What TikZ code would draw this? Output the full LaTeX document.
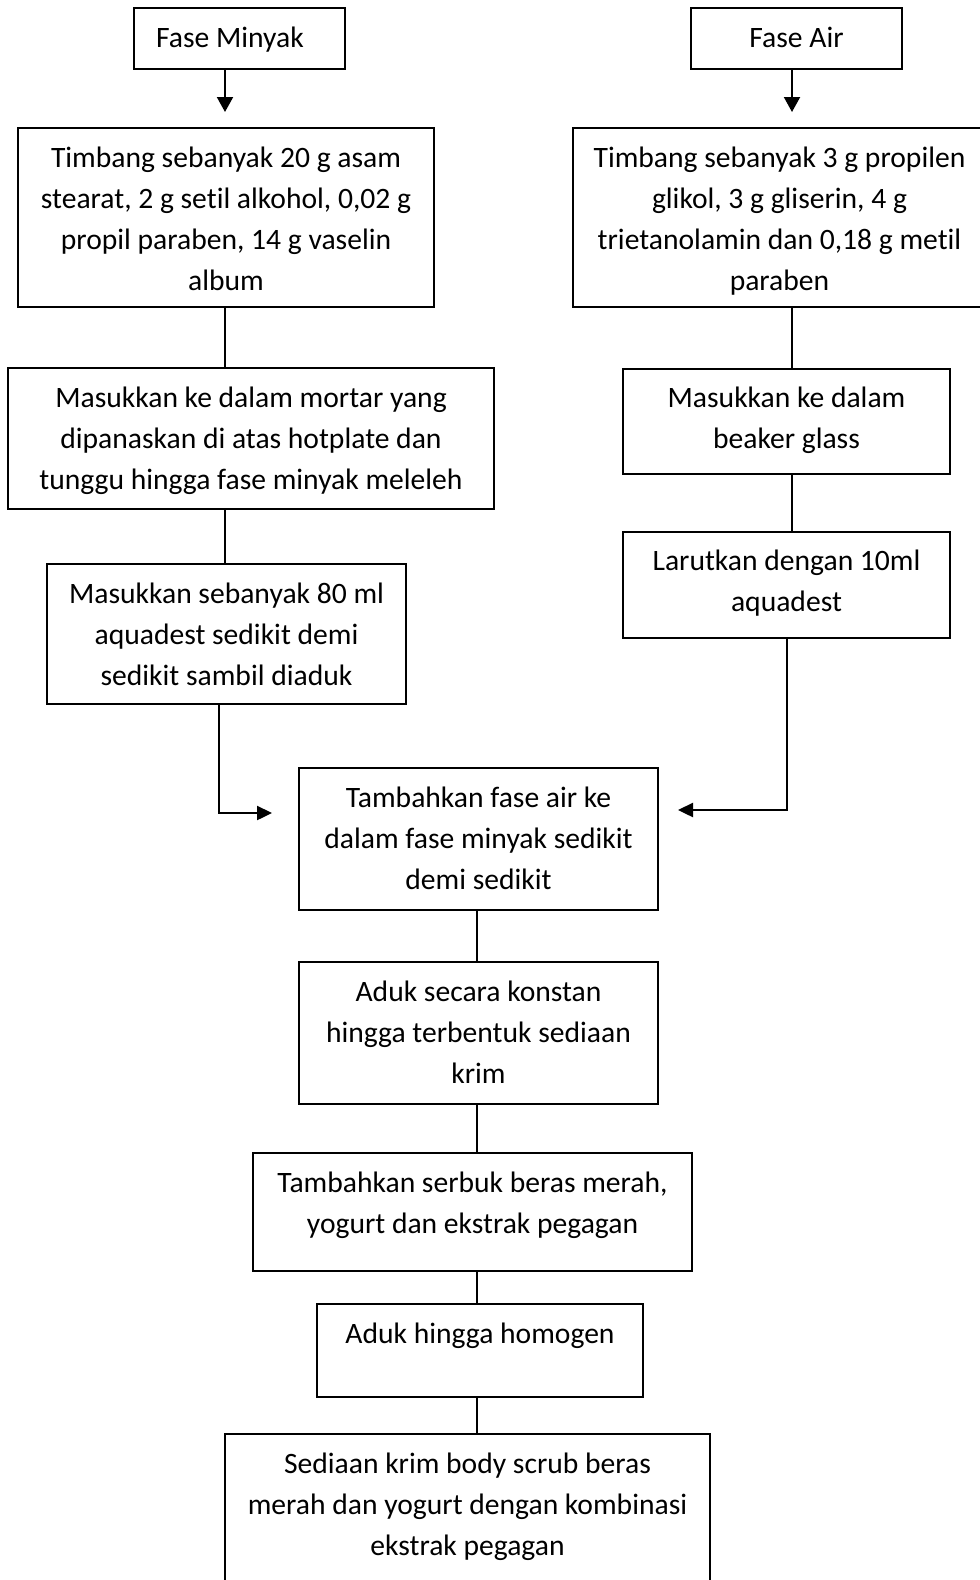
\documentclass[tikz,border=0pt]{standalone}
\usepackage{fontspec}
\setmainfont{Carlito}[Ligatures={NoCommon}]
\usetikzlibrary{arrows.meta,calc}
\newcommand\myfirst{\rule{0pt}{30pt}}
\tikzset{
  boxst/.style={draw=black, line width=1.8pt, rectangle, inner sep=0pt, fill=white},
  txt/.style={align=center, inner sep=0pt, anchor=north, font=\fontsize{29.6}{41}\selectfont},
  plain/.style={draw=black, line width=1.6pt},
  arrowline/.style={draw=black, line width=2.4pt, -{Triangle[length=15pt,width=14pt]}},
  toparrow/.style={draw=black, line width=2pt, -{Triangle[length=15pt,width=16pt]}}
}
\begin{document}
\begin{tikzpicture}[x=1pt,y=-1pt]
\clip (0,0) rectangle (980,1580);
\fill[white] (0,0) rectangle (980,1580);

% boxes
\node[boxst, minimum width=211pt, minimum height=61pt] (fm) at (239.5,38.5) {};
\node[boxst, minimum width=211pt, minimum height=61pt] (fa) at (796.5,38.5) {};
\node[boxst, minimum width=416pt, minimum height=179pt] (tl) at (226,217.5) {};
\node[boxst, minimum width=417pt, minimum height=179pt] (tr) at (781.5,217.5) {};
\node[boxst, minimum width=486pt, minimum height=141pt] (ml) at (251,438.5) {};
\node[boxst, minimum width=359pt, minimum height=140pt] (ak) at (226.5,634) {};
\node[boxst, minimum width=327pt, minimum height=105pt] (bg) at (786.5,421.5) {};
\node[boxst, minimum width=327pt, minimum height=106pt] (lr) at (786.5,585) {};
\node[boxst, minimum width=359pt, minimum height=142pt] (tf) at (478.5,839) {};
\node[boxst, minimum width=359pt, minimum height=142pt] (ak2) at (478.5,1033) {};
\node[boxst, minimum width=439pt, minimum height=118pt] (sb) at (472.5,1212) {};
\node[boxst, minimum width=326pt, minimum height=93pt] (hh) at (480,1350.5) {};
\node[boxst, minimum width=485pt, minimum height=166pt] (sd) at (467.5,1517) {};

% texts
\node[txt] (fm-t) at (230,17) {\myfirst Fase Minyak};
\node[txt] (fa-t) at (796.5,17) {\myfirst Fase Air};
\node[txt] (tl-t) at (226,137) {\myfirst Timbang sebanyak 20 g asam\\stearat, 2 g setil alkohol, 0,02 g\\propil paraben, 14 g vaselin\\album};
\node[txt] (tr-t) at (779.5,137) {\myfirst Timbang sebanyak 3 g propilen\\glikol, 3 g gliserin, 4 g\\trietanolamin dan 0,18 g metil\\paraben};
\node[txt] (ml-t) at (251,377) {\myfirst Masukkan ke dalam mortar yang\\dipanaskan di atas hotplate dan\\tunggu hingga fase minyak meleleh};
\node[txt] (ak-t) at (226.5,573) {\myfirst Masukkan sebanyak 80 ml\\aquadest sedikit demi\\sedikit sambil diaduk};
\node[txt] (bg-t) at (786.5,377) {\myfirst Masukkan ke dalam\\beaker glass};
\node[txt] (lr-t) at (786.5,540) {\myfirst Larutkan dengan 10ml\\aquadest};
\node[txt] (tf-t) at (478.5,777) {\myfirst Tambahkan fase air ke\\dalam fase minyak sedikit\\demi sedikit};
\node[txt] (ak2-t) at (478.5,971) {\myfirst Aduk secara konstan\\hingga terbentuk sediaan\\krim};
\node[txt] (sb-t) at (472.5,1162) {\myfirst Tambahkan serbuk beras merah,\\yogurt dan ekstrak pegagan};
\node[txt] (hh-t) at (480,1313) {\myfirst Aduk hingga homogen};
\node[txt] (sd-t) at (467.5,1443) {\myfirst Sediaan krim body scrub beras\\merah dan yogurt dengan kombinasi\\ekstrak pegagan};

% coordinates
\coordinate (fmtip) at (225,112);
\coordinate (fatip) at (792,112);
\coordinate (lstart) at (69,704);
\coordinate (lbend) at (219,704);
\coordinate (ltip) at (272,813);
\coordinate (rstart) at (855,638);
\coordinate (rbend) at (787,638);
\coordinate (rtip) at (678,810);
\coordinate (axis) at (477,0);

% connectors
\draw[toparrow] (fm.south -| fmtip) -- (fmtip);
\draw[toparrow] (fa.south -| fatip) -- (fatip);
\draw[plain] (tl.south -| fmtip) -- (ml.north -| fmtip);
\draw[plain] (ml.south -| fmtip) -- (ak.north -| fmtip);
\draw[plain] (tr.south -| fatip) -- (bg.north -| fatip);
\draw[plain] (bg.south -| fatip) -- (lr.north -| fatip);
\draw[arrowline] (lstart) -- (lbend) |- (ltip);
\draw[arrowline] (rstart) -- (rbend) |- (rtip);
\draw[plain] (tf.south -| axis) -- (ak2.north -| axis);
\draw[plain] (ak2.south -| axis) -- (sb.north -| axis);
\draw[plain] (sb.south -| axis) -- (hh.north -| axis);
\draw[plain] (hh.south -| axis) -- (sd.north -| axis);
\end{tikzpicture}
\end{document}
